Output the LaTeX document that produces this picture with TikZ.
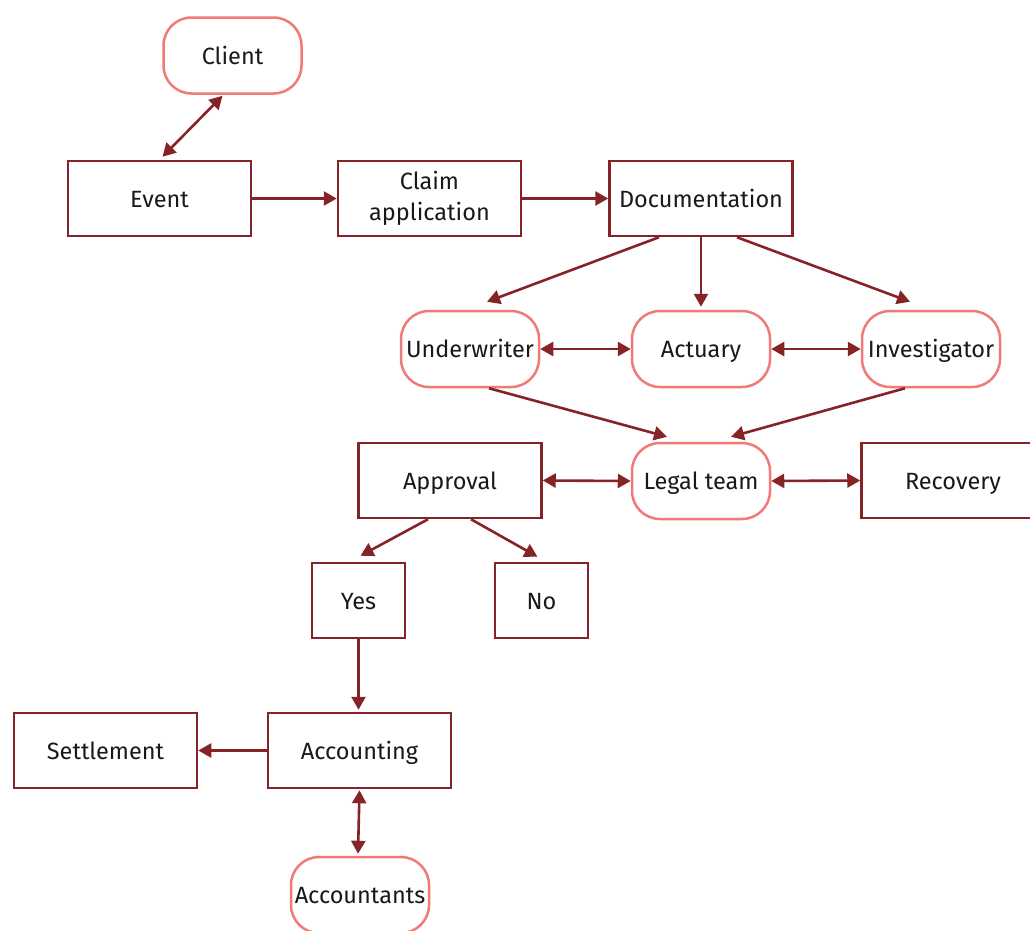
\documentclass[tikz,border=0pt]{standalone}
\usepackage{fontspec}
\setmainfont{Fira Sans}
\usetikzlibrary{arrows.meta,calc}
\definecolor{dred}{HTML}{862327}
\definecolor{salmon}{HTML}{F07A77}
\tikzset{
  basetext/.style={inner sep=0pt, align=center, font=\fontsize{23.5}{31}\selectfont, text=black!90},
  oneline/.style={text height=23pt, text depth=6pt},
  box/.style={basetext, draw=dred, line width=2.5pt, fill=white, minimum width=183pt, minimum height=75pt},
  sbox/.style={box, minimum width=93pt},
  rbox/.style={basetext, oneline, draw=salmon, line width=2.5pt, fill=white, rounded corners=28pt, minimum width=138pt, minimum height=76pt},
  conn/.style={draw=dred, line width=2.6pt, -{Triangle[length=13pt,width=14pt]}},
  bconn/.style={draw=dred, line width=2.6pt, {Triangle[length=13pt,width=14pt]}-{Triangle[length=13pt,width=14pt]}},
}
\begin{document}
\begin{tikzpicture}[x=1pt,y=-1pt]
\useasboundingbox (0,0) rectangle (1030,930);
\node[rbox] (client) at (232.5,55.5) {Client};
\node[box,oneline] (event) at (159.5,198.5) {Event};
\node[box] (claim) at (429.5,198.5) {Claim\\application};
\node[box,oneline] (doc) at (701,198.5) {Documentation};
\node[rbox] (uw) at (470,349) {Underwriter};
\node[rbox] (act) at (701,349) {Actuary};
\node[rbox] (inv) at (931,349) {Investigator};
\node[box,oneline] (appr) at (450,480.5) {Approval};
\node[rbox] (legal) at (701,481) {Legal team};
\node[box,oneline] (rec) at (953,480.5) {Recovery};
\node[sbox,oneline] (yes) at (358.5,600.5) {Yes};
\node[sbox,oneline] (no) at (541.5,600.5) {No};
\node[box,oneline] (settle) at (105.5,750.5) {Settlement};
\node[box,oneline] (acc) at (359.5,750.5) {Accounting};
\node[rbox] (accts) at (360,895) {Accountants};

\draw[bconn] ($(client.south)+(-10,1)$) -- ($(event.north)+(3,-3)$);
\draw[conn] (event.east) -- (claim.west);
\draw[conn] (claim.east) -- (doc.west);
\draw[conn] ($(doc.south)+(-42,0)$) -- ($(uw.north)+(17,-8)$);
\draw[conn] (doc.south) -- ($(act.north)+(0,-3)$);
\draw[conn] ($(doc.south)+(36,0)$) -- ($(inv.north)+(-21,-8)$);
\draw[bconn] (uw.east) -- (act.west);
\draw[bconn] (act.east) -- (inv.west);
\draw[conn] ($(uw.south)+(19,0)$) -- ($(legal.north)+(-34,-5)$);
\draw[conn] ($(inv.south)+(-26,0)$) -- ($(legal.north)+(30,-5)$);
\draw[bconn] (appr.east) -- (legal.west);
\draw[bconn] (legal.east) -- (rec.west);
\draw[conn] ($(appr.south)+(-22,0)$) -- ($(yes.north)+(2,-6)$);
\draw[conn] ($(appr.south)+(21,0)$) -- ($(no.north)+(-4,-5)$);
\draw[conn] (yes.south) -- ($(acc.north)+(-1,-2)$);
\draw[conn] (acc.west) -- (settle.east);
\draw[bconn] ($(acc.south)+(0,1)$) -- ($(accts.north)+(-2,-2)$);
\end{tikzpicture}
\end{document}
